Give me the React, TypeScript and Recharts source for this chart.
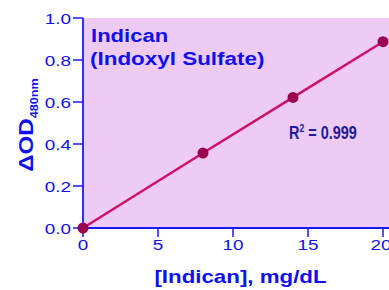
import {
  CartesianGrid,
  Customized,
  Line,
  LineChart,
  XAxis,
  YAxis,
} from "recharts";

const concentrations = [0, 8, 14, 20];
const odValues = [0, 0.357, 0.622, 0.887];
const xTicks = [0, 5, 10, 15, 20];
const yTicks = [0, 0.2, 0.4, 0.6, 0.8, 1.0];

const data = concentrations.map((c, i) => ({ conc: c, od: odValues[i] }));

const BLUE = "#1010ee";
const AXIS = "#1a1af5";
const NAVY = "#1c1c9c";
const FONT = "'Liberation Sans', Arial, sans-serif";

// the reference text is drawn a bit wider than normal Arial
const StretchText = ({ x, y, sx = 1.2, children, ...rest }: any) => (
  <text
    transform={`translate(${x} ${y}) scale(${sx} 1)`}
    x={0}
    y={0}
    fontFamily={FONT}
    {...rest}
  >
    {children}
  </text>
);

const XTick = ({ x, y, payload }: any) => (
  <StretchText x={x} y={y + 11} sx={1.22} textAnchor="middle" fontSize={15.5} fill={BLUE}>
    {payload.value}
  </StretchText>
);

const YTick = ({ x, y, payload }: any) => (
  <StretchText x={x} y={y + 5.5} sx={1.22} textAnchor="end" fontSize={15.5} fill={BLUE}>
    {Number(payload.value).toFixed(1)}
  </StretchText>
);

const Annotations = () => (
  <g>
    <StretchText x={91} y={41.7} sx={1.18} fontSize={18.7} fontWeight="bold" fill={BLUE}>
      Indican
    </StretchText>
    <StretchText x={90} y={65} sx={1.2} fontSize={18.7} fontWeight="bold" fill={BLUE}>
      (Indoxyl Sulfate)
    </StretchText>
    <StretchText x={289} y={139} sx={0.78} fontSize={18.5} fontWeight="bold" fill={NAVY}>
      R<tspan dy={-7} fontSize={11}>2</tspan>
      <tspan dy={7}> = 0.999</tspan>
    </StretchText>
    <StretchText x={240.5} y={283.3} sx={1.2} textAnchor="middle" fontSize={18.6} fontWeight="bold" fill={BLUE}>
      [Indican], mg/dL
    </StretchText>
    <text
      transform="translate(33.3 125) rotate(-90) scale(1.15 1)"
      textAnchor="middle"
      fontFamily={FONT}
      fontWeight="bold"
      fontSize={21}
      fill={BLUE}
    >
      ΔOD<tspan dy={5} fontSize={11}>480nm</tspan>
    </text>
  </g>
);

export default function App() {
  return (
    <div style={{ position: "absolute", left: 0, top: 0 }}>
      <LineChart
        width={389}
        height={290}
        data={data}
        margin={{ top: 18, right: 0, bottom: 0, left: 0 }}
      >
        <CartesianGrid fill="#eecbf5" horizontal={false} vertical={false} stroke="none" />
        <XAxis
          type="number"
          dataKey="conc"
          domain={[0, 20.4]}
          ticks={xTicks}
          height={62}
          tickSize={9}
          tickMargin={2}
          stroke={AXIS}
          axisLine={{ stroke: AXIS, strokeWidth: 1.8 }}
          tickLine={{ stroke: AXIS, strokeWidth: 1.5 }}
          tick={<XTick />}
        />
        <YAxis
          type="number"
          domain={[0, 1]}
          ticks={yTicks}
          width={83}
          tickSize={10}
          tickMargin={2}
          stroke={AXIS}
          axisLine={{ stroke: AXIS, strokeWidth: 1.8 }}
          tickLine={{ stroke: AXIS, strokeWidth: 1.5 }}
          tick={<YTick />}
        />
        <Line
          type="linear"
          dataKey="od"
          stroke="#cc1166"
          strokeWidth={2.5}
          dot={{ r: 5.5, fill: "#99004d", stroke: "none" }}
          activeDot={false}
          isAnimationActive={false}
        />
        <Customized component={Annotations} />
      </LineChart>
    </div>
  );
}
